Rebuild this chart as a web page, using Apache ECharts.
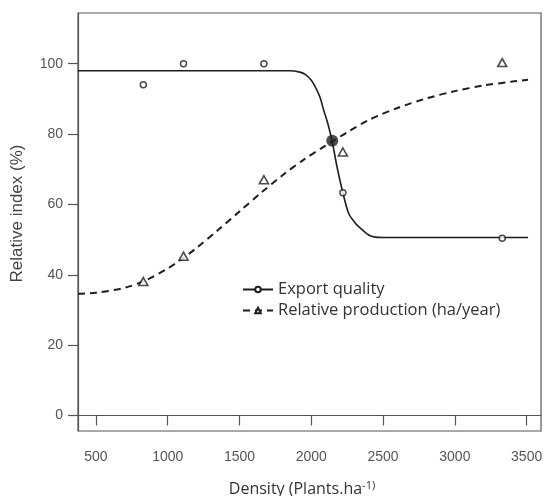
<!DOCTYPE html>
<html>
<head>
<meta charset="utf-8">
<script src="https://cdn.jsdelivr.net/npm/echarts@6/dist/echarts.min.js"></script>
<style>html,body{margin:0;padding:0;background:#fff;}#c{width:544px;height:496px;}</style>
</head>
<body>
<div id="c"></div>
<script>
// Observed points
const densityObs = [830, 1110, 1670, 2220, 3330];
const exportQualityObs = [94, 100, 100, 63.3, 50.4];
const relProductionObs = [38.1, 45.3, 67, 74.9, 100.3];

// Fitted curves
const exportCurveX = [375, 1850, 1920, 1960, 2000, 2025, 2060, 2085, 2115, 2145, 2180, 2220, 2260, 2300, 2330, 2400, 2445, 2500, 3510];
const exportCurveY = [98, 98, 97.6, 96.9, 95.3, 93.6, 90.5, 87, 83, 78, 70.5, 63.3, 57.5, 55, 53.7, 51.3, 50.7, 50.6, 50.6];
const prodCurveX = [375, 500, 700, 850, 1000, 1100, 1200, 1350, 1500, 1650, 1800, 1950, 2100, 2150, 2250, 2400, 2600, 2800, 3000, 3200, 3400, 3510];
const prodCurveY = [34.6, 34.9, 36.3, 38.5, 41.8, 44.5, 47.6, 52.7, 58.0, 63.3, 68.3, 72.8, 76.7, 78.0, 80.5, 84.0, 87.4, 90.1, 92.2, 93.8, 94.9, 95.4];

// Intersection point
const intersection = [2146, 78.1];

// Tick labels
const xTicks = [500, 1000, 1500, 2000, 2500, 3000, 3500];
const yTicks = [0, 20, 40, 60, 80, 100];

const names = ['Export quality', 'Relative production (ha/year)'];

const zip = (a, b) => a.map((v, i) => [v, b[i]]);

const chart = echarts.init(document.getElementById('c'), null, {renderer: 'canvas'});
const axisCol = '#555';
const ink = '#1e1e1e';
chart.setOption({
  animation: false,
  backgroundColor: '#fff',
  grid: {left: 78, top: 13, right: 3, bottom: 65, show: true, borderColor: axisCol, borderWidth: 1.2, containLabel: false, outerBoundsMode: 'none'},
  legend: {
    data: names, orient: 'vertical', left: 242, top: 281, padding: 0,
    itemWidth: 30, itemHeight: 7, itemGap: 4,
    textStyle: {fontFamily: 'Open Sans', fontSize: 16.5, color: '#333'},
    selectedMode: false
  },
  xAxis: {
    type: 'value', min: 375, max: 3600,
    axisLine: {show: true, lineStyle: {color: axisCol, width: 1.2}},
    axisTick: {show: true, length: 10, inside: false, customValues: xTicks, lineStyle: {color: axisCol, width: 1.2}},
    axisLabel: {customValues: xTicks, margin: 19, fontFamily: 'Liberation Sans', fontSize: 14, color: '#555', formatter: v => String(v)},
    splitLine: {show: false},
    name: '{a|Density (Plants.ha}{s|-1)}',
    nameLocation: 'middle', nameGap: 49,
    nameTextStyle: {
      padding: [0, 15, 0, 0],
      rich: {
        a: {fontFamily: 'Open Sans', fontSize: 16, color: '#333', lineHeight: 19},
        s: {fontFamily: 'Open Sans', fontSize: 11, color: '#333', verticalAlign: 'top', lineHeight: 19}
      }
    }
  },
  yAxis: {
    type: 'value', min: -4.4, max: 114.4,
    axisLine: {show: true, lineStyle: {color: axisCol, width: 1.2}},
    axisTick: {show: true, length: 10, inside: false, customValues: yTicks, lineStyle: {color: axisCol, width: 1.2}},
    axisLabel: {customValues: yTicks, margin: 15, fontFamily: 'Liberation Sans', fontSize: 14, color: '#555', formatter: v => String(v)},
    splitLine: {show: false},
    name: 'Relative index (%)',
    nameLocation: 'middle', nameGap: 52,
    nameTextStyle: {fontFamily: 'Liberation Sans', fontSize: 17, color: '#444', padding: [0, 0, 0, 17]}
  },
  series: [
    {
      name: names[1], type: 'line', data: zip(prodCurveX, prodCurveY), smooth: 0.3,
      symbol: 'emptyTriangle', showSymbol: false, color: ink,
      lineStyle: {color: ink, width: 2, type: [7, 5]}, z: 2
    },
    {
      name: names[0], type: 'line', data: zip(exportCurveX, exportCurveY), smooth: 0.3,
      symbol: 'emptyCircle', showSymbol: false, color: ink,
      lineStyle: {color: ink, width: 1.6}, z: 2
    },
    {
      type: 'scatter', data: zip(densityObs, exportQualityObs), symbol: 'circle', symbolSize: 6,
      itemStyle: {color: '#fff', borderColor: ink, borderWidth: 1.5}, z: 3
    },
    {
      type: 'scatter', data: zip(densityObs, relProductionObs), symbol: 'triangle', symbolSize: [9, 8],
      itemStyle: {color: '#fff', borderColor: ink, borderWidth: 1.6}, z: 3
    },
    {
      type: 'scatter', data: [intersection], symbol: 'circle', symbolSize: 12,
      itemStyle: {color: ink}, z: 4
    }
  ]
});
</script>
</body>
</html>
